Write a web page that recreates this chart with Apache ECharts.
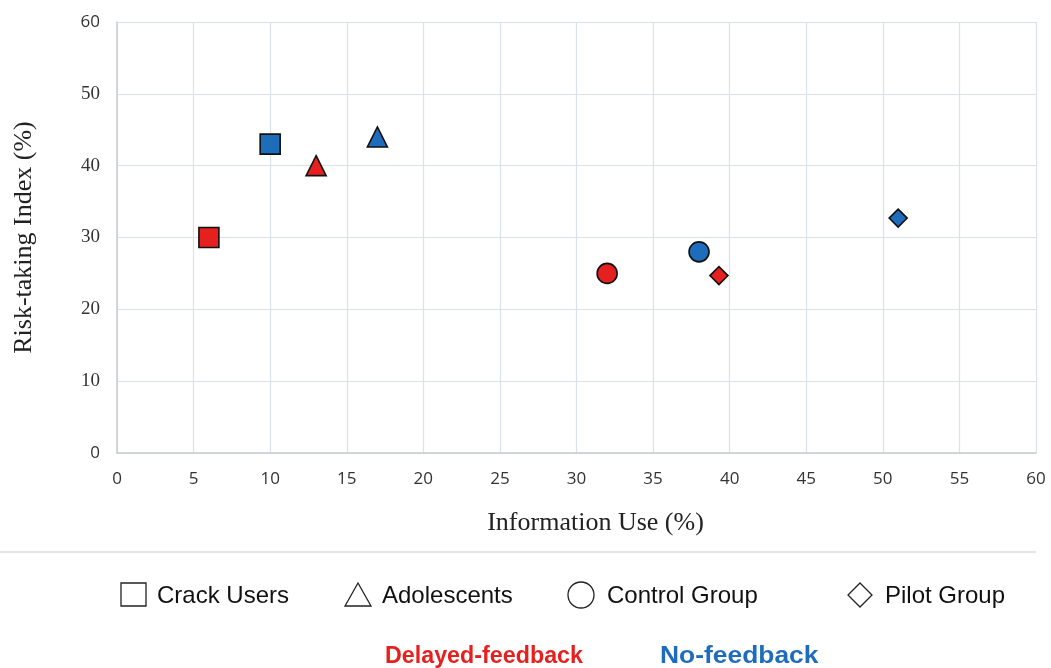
<!DOCTYPE html>
<html>
<head>
<meta charset="utf-8">
<script src="https://cdn.jsdelivr.net/npm/echarts@6/dist/echarts.min.js"></script>
<style>
  html, body { margin: 0; padding: 0; background: #fff; }
  #main { width: 1051px; height: 668px; }
</style>
</head>
<body>
<div id="main"></div>
<script>
// groups (one marker shape each)
var groups = ['Crack Users', 'Adolescents', 'Control Group', 'Pilot Group'];
var shapes = ['rect', 'triangle', 'circle', 'diamond'];
var sizes = [20, 20, 20, 18];
// delayed-feedback (red) and no-feedback (blue) points, same order as groups
var delayedX = [6, 13, 32, 39.3];
var delayedY = [30, 40, 25, 24.7];
var noFbX = [10, 17, 38, 51];
var noFbY = [43, 44, 28, 32.7];

var RED = '#e6201e';
var BLUE = '#1e6cbc';

var chart = echarts.init(document.getElementById('main'));

var series = [];
for (var i = 0; i < groups.length; i++) {
  series.push({
    name: groups[i] + ' delayed',
    type: 'scatter',
    symbol: shapes[i],
    symbolSize: sizes[i],
    itemStyle: { color: RED, opacity: 1, borderColor: '#111', borderWidth: 1.6 },
    data: [[delayedX[i], delayedY[i]]]
  });
  series.push({
    name: groups[i] + ' none',
    type: 'scatter',
    symbol: shapes[i],
    symbolSize: sizes[i],
    itemStyle: { color: BLUE, opacity: 1, borderColor: '#111', borderWidth: 1.6 },
    data: [[noFbX[i], noFbY[i]]]
  });
}

// legend drawn by hand: hollow black shapes
var outline = { fill: 'none', stroke: '#222', lineWidth: 1.3 };
var graphic = [
  { type: 'line', shape: { x1: 0, y1: 552, x2: 1036, y2: 552 }, style: { stroke: '#dcdcdc', lineWidth: 1.5 } },
  { type: 'rect', shape: { x: 121, y: 583, width: 25, height: 23 }, style: outline },
  { type: 'polygon', shape: { points: [[358, 583], [345, 606], [371, 606]] }, style: outline },
  { type: 'circle', shape: { cx: 581, cy: 595, r: 13 }, style: outline },
  { type: 'polygon', shape: { points: [[860, 583], [872, 595], [860, 607], [848, 595]] }, style: outline }
];
var legendText = [[157, groups[0]], [382, groups[1]], [607, groups[2]], [885, groups[3]]];
legendText.forEach(function (t) {
  graphic.push({
    type: 'text', x: t[0], y: 596,
    style: { text: t[1], fill: '#111', font: '24px "Liberation Sans", Arial', verticalAlign: 'middle' }
  });
});
graphic.push({
  type: 'text', x: 385, y: 656, scaleX: 0.97,
  style: { text: 'Delayed-feedback', fill: RED, font: 'bold 24px "Liberation Sans", Arial', verticalAlign: 'middle' }
});
graphic.push({
  type: 'text', x: 660, y: 656, scaleX: 1.1,
  style: { text: 'No-feedback', fill: BLUE, font: 'bold 24px "Liberation Sans", Arial', verticalAlign: 'middle' }
});

var gridLine = { show: true, lineStyle: { color: '#dbe1e8', width: 1.2 } };
var edgeLine = { show: true, lineStyle: { color: '#c8ccd2', width: 1.5 } };

chart.setOption({
  animation: false,
  backgroundColor: '#fff',
  grid: { left: 117, right: 15, top: 22, bottom: 215 },
  xAxis: {
    type: 'value', min: 0, max: 60, interval: 5,
    name: 'Information Use (%)', nameLocation: 'middle', nameGap: 57,
    nameTextStyle: { fontFamily: 'Liberation Serif', fontSize: 26, color: '#222', padding: [0, 0, 0, 38] },
    axisLine: edgeLine,
    axisTick: { show: false },
    axisLabel: { fontFamily: 'Open Sans', fontSize: 17, color: '#333', margin: 18 },
    splitLine: gridLine
  },
  yAxis: {
    type: 'value', min: 0, max: 60, interval: 10,
    name: 'Risk-taking Index (%)', nameLocation: 'middle', nameGap: 80,
    nameTextStyle: { fontFamily: 'Liberation Serif', fontSize: 26, color: '#222' },
    axisLine: edgeLine,
    axisTick: { show: false },
    axisLabel: {
      color: '#333', margin: 17,
      formatter: function (v) { return (v === 0 || v === 60) ? '{s|' + v + '}' : '{r|' + v + '}'; },
      rich: {
        s: { fontFamily: 'Open Sans', fontSize: 17, color: '#333' },
        r: { fontFamily: 'Liberation Serif', fontSize: 19, color: '#333' }
      }
    },
    splitLine: gridLine
  },
  series: series,
  graphic: graphic
});
</script>
</body>
</html>
